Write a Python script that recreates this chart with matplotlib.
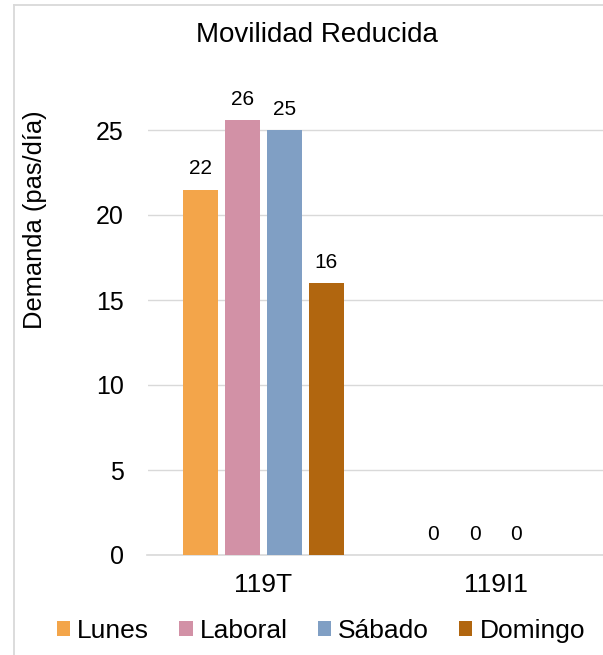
import numpy as np
import matplotlib
matplotlib.use("Agg")
import matplotlib.pyplot as plt
from matplotlib.lines import Line2D

plt.rcParams['font.family'] = ['Liberation Sans', 'DejaVu Sans']

# Data
categories = ["119T", "119I1"]
series_names = ["Lunes", "Laboral", "Sábado", "Domingo"]
lunes = [21.5, 0]
laboral = [25.6, 0]
sabado = [25.0, 0]
domingo = [16.0, np.nan]
yticks = [0, 5, 10, 15, 20, 25]

series_values = [lunes, laboral, sabado, domingo]
colors = ["#F3A54A", "#D291A6", "#809FC4", "#B1660F"]

W, H = 603, 655
fig = plt.figure(figsize=(W / 100, H / 100), dpi=100)

# Plot area (pixel layout converted to figure fractions)
x0, x1 = 147.5, 611.5
y_zero, px_per_unit = 555, 17.0
ymax = 27
y_top = y_zero - ymax * px_per_unit
ax = fig.add_axes([x0 / W, (H - y_zero) / H, (x1 - x0) / W, (y_zero - y_top) / H])

x = np.arange(len(categories))
step = 0.181
width = 0.147
offsets = (np.arange(len(series_names)) - 1.5) * step

handles = []
for name, vals, off, col in zip(series_names, series_values, offsets, colors):
    vals = np.asarray(vals, dtype=float)
    bars = ax.bar(x + off, np.nan_to_num(vals), width, color=col, label=name, zorder=3)
    handles.append(bars)
    for xi, v in zip(x + off, vals):
        if np.isnan(v):
            continue
        ax.annotate(f"{v:.0f}", (xi, v), xytext=(0, 11), textcoords="offset points",
                    ha="center", va="baseline", fontsize=15, color="#000000",
                    annotation_clip=False)

ax.set_xlim(-0.5, len(categories) - 0.5)
ax.set_ylim(0, ymax)
ax.set_yticks(yticks)
ax.set_xticks(x)
ax.set_xticklabels(categories)
ax.tick_params(axis="both", length=0, colors="#000000")
ax.tick_params(axis="y", pad=17, labelsize=18)
ax.tick_params(axis="x", pad=13, labelsize=19)
ax.grid(axis="y", color="#D9D9D9", linewidth=1.0, zorder=0)
for s in ["left", "right", "top"]:
    ax.spines[s].set_visible(False)
ax.spines["bottom"].set_color("#D9D9D9")
ax.spines["bottom"].set_linewidth(1.2)
ax.spines["bottom"].set_zorder(2)

# Titles
fig.text(317 / W, (H - 42) / H, "Movilidad Reducida", ha="center", va="baseline",
         fontsize=20, color="#000000")
fig.text(35 / W, (H - 220) / H, "Demanda (pas/día)", ha="center", va="center",
         rotation=90, fontsize=18.4, color="#000000")

# Legend
fig.legend(handles=handles, labels=series_names, loc="center", ncol=4,
           bbox_to_anchor=(321 / W, (H - 631) / H), frameon=False, fontsize=19,
           handlelength=0.5, handleheight=0.5, handletextpad=0.27,
           columnspacing=1.14, borderpad=0, borderaxespad=0)

# Chart border
fig.add_artist(Line2D([13.5 / W, 13.5 / W], [0, (H - 5) / H], color="#D9D9D9",
                      linewidth=1.3, transform=fig.transFigure))
fig.add_artist(Line2D([13.5 / W, 1.0], [(H - 5) / H, (H - 5) / H], color="#D9D9D9",
                      linewidth=1.3, transform=fig.transFigure))

fig.savefig("out.png", dpi=100)
